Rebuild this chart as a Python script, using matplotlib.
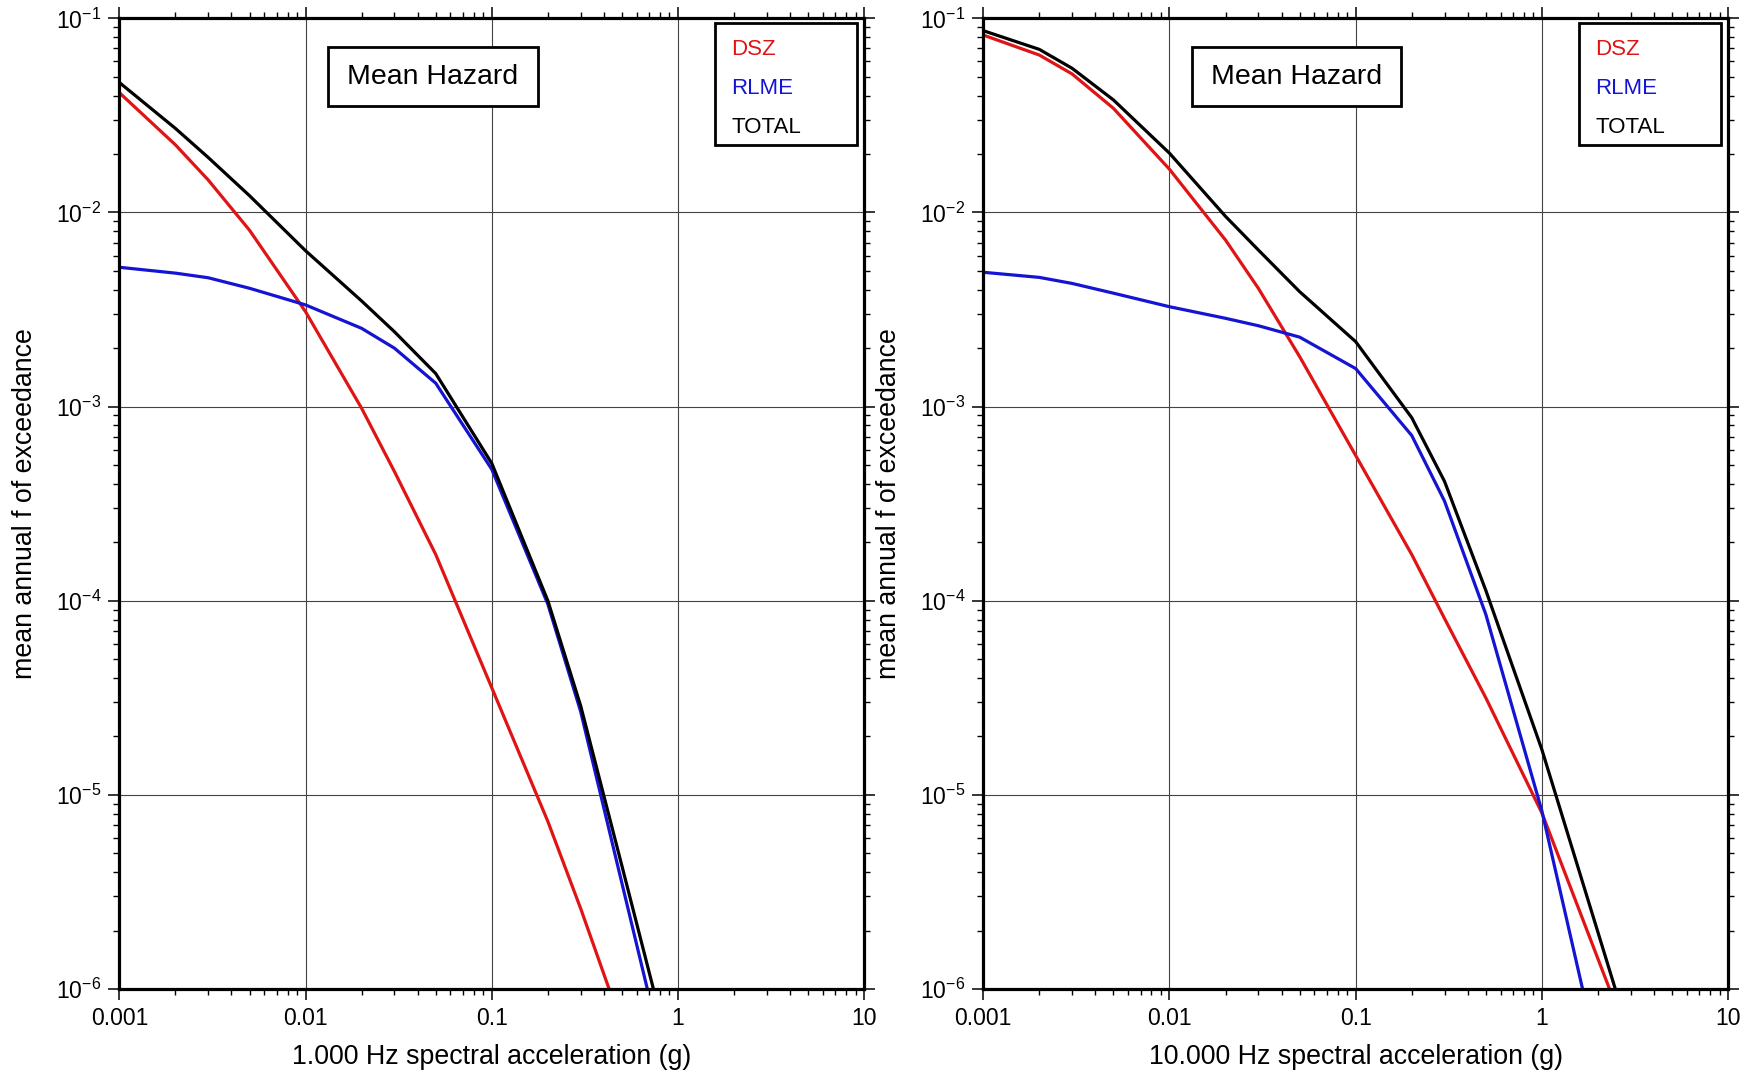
import numpy as np
from matplotlib import pyplot as plt
from matplotlib.patches import Rectangle
from matplotlib.ticker import LogLocator, FixedLocator, FixedFormatter

plt.rcParams['font.family'] = ['Liberation Sans', 'DejaVu Sans']
plt.rcParams['mathtext.default'] = 'regular'

# Spectral acceleration levels (g)
accel = [0.001, 0.002, 0.003, 0.005, 0.01, 0.02, 0.03, 0.05, 0.1, 0.2, 0.3, 0.5, 1.0, 2.0, 3.0]

# 1.000 Hz
dsz1 = [0.0414, 0.0223, 0.0147, 0.0081, 0.00308, 0.00098, 0.000463, 0.000173, 3.56e-5, 7.3e-6, 2.6e-6, 6.5e-7, 8.7e-8, 1e-8, 2e-9]
rlme1 = [0.00522, 0.00487, 0.00461, 0.00407, 0.00334, 0.00253, 0.00200, 0.00132, 0.000475, 9.6e-5, 2.69e-5, 3.5e-6, 2.2e-7, 1e-8, 1e-9]
total1 = [0.0467, 0.0271, 0.0192, 0.0122, 0.00635, 0.0035, 0.00243, 0.00148, 0.00051, 1.0e-4, 2.88e-5, 4.3e-6, 3.2e-7, 2e-8, 3e-9]

# 10.000 Hz
dsz10 = [0.082, 0.0647, 0.0517, 0.0344, 0.0167, 0.00721, 0.00407, 0.00181, 0.00056, 0.000173, 8.1e-5, 3.16e-5, 8.07e-6, 1.43e-6, 5.2e-7]
rlme10 = [0.00492, 0.00463, 0.00431, 0.00384, 0.00327, 0.00285, 0.00261, 0.00228, 0.00157, 0.00071, 0.000326, 8.5e-5, 8.26e-6, 4.5e-7, 8e-8]
total10 = [0.0864, 0.0692, 0.0553, 0.038, 0.0202, 0.00955, 0.00641, 0.00391, 0.00216, 0.000877, 0.000412, 0.000113, 1.71e-5, 1.96e-6, 5.5e-7]

names = ["DSZ", "RLME", "TOTAL"]
colors = ['#e01414', '#1414d2', '#000000']
xLabels = ["1.000 Hz spectral acceleration (g)", "10.000 Hz spectral acceleration (g)"]
xTicks = [0.001, 0.01, 0.1, 1, 10]
xTickLabels = ["0.001", "0.01", "0.1", "1", "10"]

panels = [[dsz1, rlme1, total1], [dsz10, rlme10, total10]]

fig = plt.figure(figsize=(17.58, 10.72), dpi=100)
axLeft = [0.0679, 0.5593]

for p in range(0, 2):
    ax = fig.add_axes([axLeft[p], 0.0774, 0.4237, 0.9055])
    for i in range(0, 3):
        ax.plot(accel, panels[p][i], color=colors[i], linewidth=2.3, zorder=3)

    ax.set_xscale('log')
    ax.set_yscale('log')
    ax.set_xlim(0.001, 10)
    ax.set_ylim(1e-6, 1e-1)

    ax.xaxis.set_major_locator(FixedLocator(xTicks))
    ax.xaxis.set_major_formatter(FixedFormatter(xTickLabels))
    ax.xaxis.set_minor_locator(LogLocator(base=10, subs=np.arange(2, 10), numticks=20))
    ax.yaxis.set_major_locator(LogLocator(base=10, numticks=10))
    ax.yaxis.set_minor_locator(LogLocator(base=10, subs=np.arange(2, 10), numticks=20))

    ax.tick_params(which='both', direction='out', top=True, right=True, labelsize=16.5)
    ax.tick_params(which='major', length=8, width=1.1, pad=5)
    ax.tick_params(which='minor', length=4, width=1.0, labelleft=False, labelbottom=False)

    for spine in ax.spines.values():
        spine.set_linewidth(2.3)
        spine.set_zorder(5)

    ax.grid(True, which='major', color='#444444', linewidth=0.8, zorder=1)

    ax.set_xlabel(xLabels[p], fontsize=19.3, va='center')
    ax.xaxis.set_label_coords(0.5, -0.070)
    ax.set_ylabel('mean annual f of exceedance', fontsize=19.3, va='center', ha='center')
    ax.yaxis.set_label_coords(-0.1266, 0.5)

    # title box
    ax.add_patch(Rectangle((0.2797, 0.9097), 0.2817, 0.0607, transform=ax.transAxes,
                           facecolor='white', edgecolor='black', linewidth=2.0, zorder=6))
    ax.text(0.4205, 0.940, "Mean Hazard", transform=ax.transAxes, fontsize=20.5,
            ha='center', va='center', zorder=7)

    # legend box
    ax.add_patch(Rectangle((0.800, 0.8698), 0.1905, 0.1257, transform=ax.transAxes,
                           facecolor='white', edgecolor='black', linewidth=2.0, zorder=6))
    legendY = [0.9684, 0.9282, 0.888]
    for i in range(0, 3):
        ax.text(0.8213, legendY[i], names[i], transform=ax.transAxes, color=colors[i],
                fontsize=16, ha='left', va='center', zorder=7)

plt.savefig("out.png", dpi=100)
